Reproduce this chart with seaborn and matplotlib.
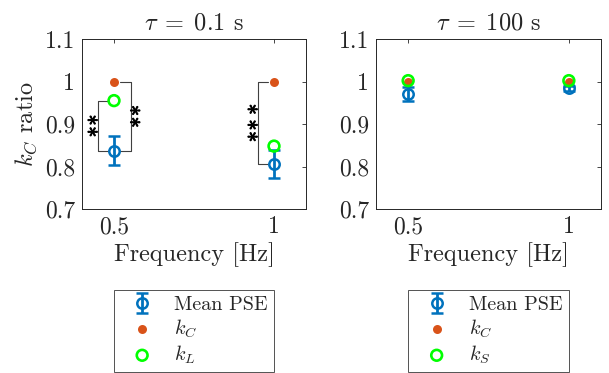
"""kC ratio vs frequency, two time constants"""
import numpy as np
import matplotlib
matplotlib.use("Agg")
import matplotlib.pyplot as plt
import matplotlib.patheffects as pe
import seaborn as sns

# data
freq = [0.5, 1.0]
pse_short = [0.837, 0.806]
pse_short_err = [0.034, 0.033]
kc_short = [1.0, 1.0]
kl_short = [0.955, 0.848]

pse_long = [0.971, 0.984]
pse_long_err = [0.016, 0.006]
kc_long = [1.0, 1.0]
ks_long = [1.002, 1.002]

titles = [r"$\tau\;=\;0.1$ s", r"$\tau\;=\;100$ s"]
yticks = [0.7, 0.8, 0.9, 1.0, 1.1]
ytick_labels = ["0.7", "0.8", "0.9", "1", "1.1"]
xticks = [0.5, 1.0]
xtick_labels = ["0.5", "1"]

BLUE = "#0072BD"
ORANGE = "#D95319"
GREEN = "#00FF00"

sns.set_style("white")
plt.rcParams["font.family"] = "serif"
plt.rcParams["font.serif"] = ["cmr10"]
plt.rcParams["mathtext.fontset"] = "cm"
plt.rcParams["axes.formatter.use_mathtext"] = True
plt.rcParams["axes.unicode_minus"] = False

fig = plt.figure(figsize=(6.09, 3.73), dpi=100)
ax1 = fig.add_axes([82 / 609, 164 / 373, 224 / 609, 170 / 373])
ax2 = fig.add_axes([376 / 609, 164 / 373, 225 / 609, 170 / 373])


def draw_panel(ax, pse, err, kc, k2, k2_label, title):
    ax.errorbar(freq, pse, yerr=err, fmt="o", color=BLUE, mfc="none", mec=BLUE,
                ms=7.5, mew=1.8, elinewidth=2, capsize=4, capthick=2,
                label="Mean PSE", zorder=3)
    sns.scatterplot(x=freq, y=kc, ax=ax, color=ORANGE, s=42, linewidth=0,
                    label=r"$k_C$", zorder=4)
    sns.scatterplot(x=freq, y=k2, ax=ax, color=GREEN, s=60, linewidth=1.9,
                    edgecolor=GREEN, label=k2_label, zorder=5)
    ax.collections[-1].set_facecolor("none")

    ax.set_xlim(0.4, 1.1)
    ax.set_ylim(0.7, 1.1)
    ax.set_xticks(xticks)
    ax.set_xticklabels(xtick_labels)
    ax.set_yticks(yticks)
    ax.set_yticklabels(ytick_labels)
    ax.tick_params(direction="in", length=3, width=0.6, labelsize=17,
                   top=True, right=True, colors="0.15", pad=5)
    for sp in ax.spines.values():
        sp.set_color("0.15")
        sp.set_linewidth(0.7)
    ax.set_title(title, fontsize=17.5, pad=7)
    ax.set_xlabel("Frequency [Hz]", fontsize=17.5, labelpad=3)

    handles, labels = ax.get_legend_handles_labels()
    order = [labels.index("Mean PSE"), labels.index(r"$k_C$"), labels.index(k2_label)]
    leg = ax.legend([handles[i] for i in order], [labels[i] for i in order],
                    loc="upper center", bbox_to_anchor=(0.5, -0.475),
                    fontsize=14.5, frameon=True, fancybox=False,
                    edgecolor="0.15", handletextpad=0.5, labelspacing=0.18,
                    borderpad=0.3, handlelength=2.2, borderaxespad=0)
    leg.get_frame().set_linewidth(0.7)


draw_panel(ax1, pse_short, pse_short_err, kc_short, kl_short, r"$k_L$", titles[0])
draw_panel(ax2, pse_long, pse_long_err, kc_long, ks_long, r"$k_S$", titles[1])
ax1.set_ylabel(r"$k_C$ ratio", fontsize=17.5, labelpad=4)


# significance brackets
def bracket(ax, x_line, x_end, y_top, y_bot, stars, x_text):
    ax.plot([x_end, x_line, x_line, x_end], [y_top, y_top, y_bot, y_bot],
            color="0.25", lw=0.8, zorder=2)
    ax.text(x_text, (y_top + y_bot) / 2, stars, rotation=90, ha="center",
            va="center", fontsize=16, color="black",
            path_effects=[pe.withStroke(linewidth=0.7, foreground="black")])


bracket(ax1, 0.45, 0.484, kl_short[0], pse_short[0], r"$\ast\!\ast$", 0.433)
bracket(ax1, 0.553, 0.519, kc_short[0], pse_short[0], r"$\ast\!\ast$", 0.566)
bracket(ax1, 0.95, 0.982, kc_short[1], pse_short[1], r"$\ast\!\ast\!\ast$", 0.933)

fig.savefig("out.png", dpi=100)
